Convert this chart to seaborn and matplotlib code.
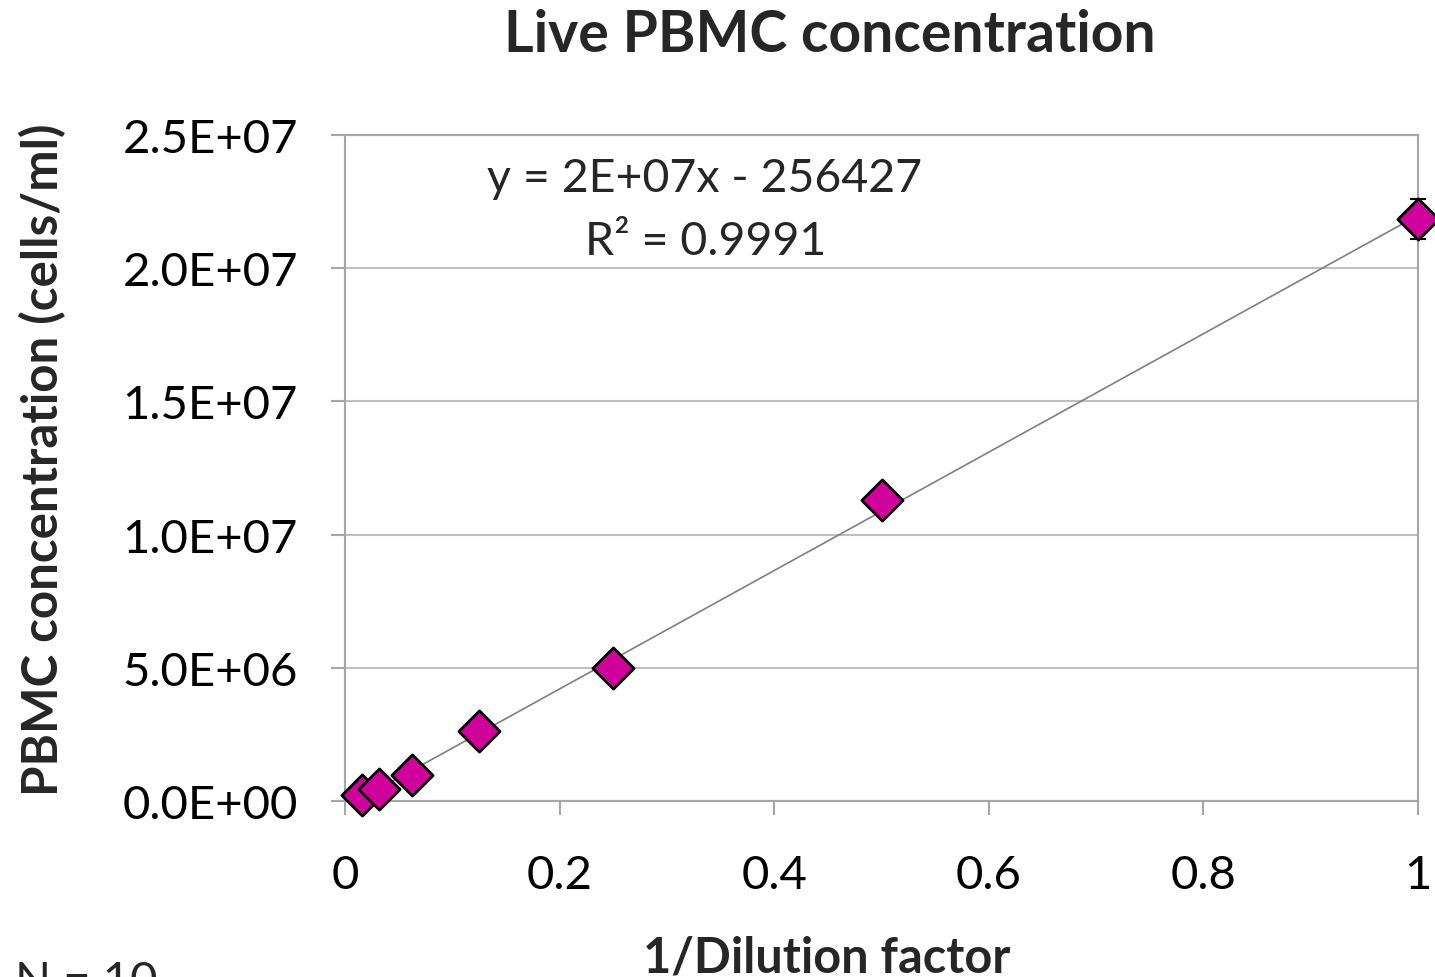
import matplotlib
matplotlib.use("Agg")
import matplotlib.pyplot as plt
import seaborn as sns
import numpy as np
import pandas as pd
from matplotlib.ticker import FuncFormatter, MultipleLocator

# ---- data ----
inv_dilution = [1/64, 1/32, 1/16, 1/8, 1/4, 1/2, 1.0]
concentration = [0.23e6, 0.45e6, 0.98e6, 2.63e6, 4.99e6, 11.3e6, 21.85e6]
conc_sd = [0.02e6, 0.03e6, 0.05e6, 0.1e6, 0.15e6, 0.3e6, 0.75e6]
x_ticks = [0, 0.2, 0.4, 0.6, 0.8, 1.0]
x_tick_labels = ["0", "0.2", "0.4", "0.6", "0.8", "1"]
equation_line1 = "y = 2E+07x - 256427"
equation_line2 = "R\u00b2 = 0.9991"
title_text = "Live PBMC concentration"
xlabel_text = "1/Dilution factor"
ylabel_text = "PBMC concentration (cells/ml)"
note_text = "N = 10"

df = pd.DataFrame({"x": inv_dilution, "y": concentration, "sd": conc_sd})

sns.set_theme(style="white")
plt.rcParams["font.family"] = ["Lato", "DejaVu Sans"]

W, H = 1435, 978
fig = plt.figure(figsize=(W/100, H/100), dpi=100)
ax = fig.add_axes([345/W, 1 - 802/H, (1418-345)/W, (802-136)/H])

grid_c = "#BFBFBF"
spine_c = "#A6A6A6"

sns.regplot(data=df, x="x", y="y", scatter=False, ci=None, truncate=True,
            color="#808080", line_kws={"lw": 1.2, "zorder": 3}, ax=ax)
ax.errorbar(df["x"], df["y"], yerr=df["sd"], fmt="none", ecolor="black",
            elinewidth=1.5, capsize=6, capthick=1.5, zorder=4, clip_on=False)
sns.scatterplot(data=df, x="x", y="y", marker="D", s=440, color="#D0009A",
                edgecolor="black", linewidth=2.0, zorder=5, clip_on=False, ax=ax)

ax.set_xlim(0, 1)
ax.set_ylim(0, 2.5e7)
ax.yaxis.set_major_locator(MultipleLocator(5e6))
ax.yaxis.set_major_formatter(FuncFormatter(lambda v, p: f"{v:.1E}"))
ax.set_xticks(x_ticks)
ax.set_xticklabels(x_tick_labels)
ax.grid(axis="y", color=grid_c, lw=1.5)
ax.grid(axis="x", visible=False)
ax.set_axisbelow(True)
for s in ax.spines.values():
    s.set_color(spine_c)
    s.set_linewidth(1.5)
ax.tick_params(axis="both", which="major", labelsize=34, colors="black",
               length=10, width=1.5, color=spine_c, direction="out")
ax.tick_params(axis="y", pad=24)
ax.tick_params(axis="x", pad=28)
ax.tick_params(left=True, bottom=True)
ax.set_xlabel("")
ax.set_ylabel("")

fig.text(705/W, 1 - 192/H, equation_line1, ha="center", va="baseline", fontsize=33.5)
fig.text(706/W, 1 - 255/H, equation_line2, ha="center", va="baseline", fontsize=33.5)

fig.text(830/W, 1 - 52/H, title_text, ha="center", va="baseline",
         fontsize=41, fontweight="bold")
fig.text(827/W, 1 - 973/H, xlabel_text, ha="center", va="baseline",
         fontsize=35, fontweight="bold")
fig.text(43/W, 1 - 460/H, ylabel_text, ha="center", va="center",
         rotation=90, fontsize=35.5, fontweight="bold")
fig.text(15/W, 1 - 995/H, note_text, ha="left", va="baseline", fontsize=34)

fig.savefig("out.png", dpi=100)
